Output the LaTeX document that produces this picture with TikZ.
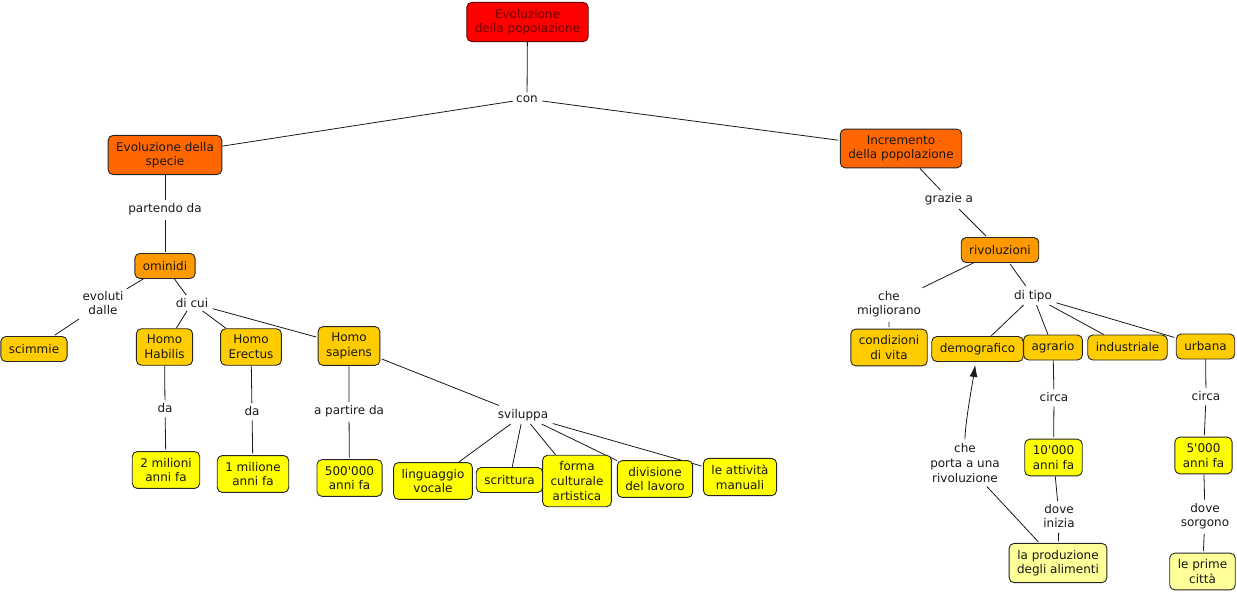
\documentclass[tikz,border=0pt]{standalone}
\usepackage{fontspec}
\setmainfont{DejaVu Sans}
\usetikzlibrary{arrows.meta,backgrounds}
\definecolor{cmred}{HTML}{FF0000}
\definecolor{cmorange}{HTML}{FF6600}
\definecolor{cmamber}{HTML}{FF9900}
\definecolor{cmgold}{HTML}{FFCC00}
\definecolor{cmyellow}{HTML}{FFFF00}
\definecolor{cmpale}{HTML}{FFFF99}
\tikzset{
  concept/.style={shape=rectangle,draw=black!85,line width=0.9pt,rounded corners=5pt,
    align=center,inner xsep=8pt,inner ysep=6.5pt,minimum height=25pt,text=black!90},
  top/.style={concept,fill=cmred,draw=red!40!black,text=red!40!black},
  main/.style={concept,fill=cmorange},
  hub/.style={concept,fill=cmamber},
  item/.style={concept,fill=cmgold},
  date/.style={concept,fill=cmyellow},
  pale/.style={concept,fill=cmpale},
  link/.style={align=center,inner sep=3pt,text=black!90},
  conn/.style={line width=0.8pt,draw=black!90,shorten <=1.5pt,shorten >=1.5pt}
}
\begin{document}
\begin{tikzpicture}[x=1pt,y=-1pt,font=\fontsize{12}{14.6}\selectfont]
  \useasboundingbox (0,0) rectangle (1237,594);
  % top
  \node (pop) [top] at (527.5,22) {Evoluzione\\della popolazione};
  \node (con) [link] at (527,99) {con};
  \node (spe) [main] at (165,155) {Evoluzione della\\specie};
  \node (inc) [main] at (901,148.5) {Incremento\\della popolazione};
  % evoluzione della specie
  \node (parte) [link] at (165,209) {partendo da};
  \node (omi) [hub] at (165,266) {ominidi};
  \node (evol) [link] at (103,303) {evoluti\\dalle};
  \node (dicui) [link] at (192,303) {di cui};
  \node (sci) [item] at (34,349) {scimmie};
  \node (hab) [item] at (164.5,347) {Homo\\Habilis};
  \node (ere) [item] at (251,347) {Homo\\Erectus};
  \node (sap) [item] at (349,346) {Homo\\sapiens};
  \node (da1) [link] at (165,408) {da};
  \node (da2) [link] at (252,411) {da};
  \node (apart) [link] at (349,411) {a partire da};
  \node (svi) [link] at (523,415) {sviluppa};
  \node (mil2) [date] at (166,470) {2 milioni\\anni fa};
  \node (mil1) [date] at (253,474) {1 milione\\anni fa};
  \node (k500) [date] at (349.5,478) {500\textquotesingle 000\\anni fa};
  \node (lin) [date] at (433,481) {linguaggio\\vocale};
  \node (scr) [date] at (509.5,480) {scrittura};
  \node (for) [date] at (577,481) {forma\\culturale\\artistica};
  \node (div) [date] at (655,479) {divisione\\del lavoro};
  \node (att) [date] at (740,477) {le attività\\manuali};
  % incremento della popolazione
  \node (graz) [link] at (949,199) {grazie a};
  \node (riv) [hub] at (1000,250) {rivoluzioni};
  \node (migl) [link] at (889,304) {che\\migliorano};
  \node (tipo) [link] at (1033,296) {di tipo};
  \node (cond) [item] at (889,347.5) {condizioni\\di vita};
  \node (dem) [item] at (977.5,349) {demografico};
  \node (agr) [item] at (1053,347.5) {agrario};
  \node (ind) [item] at (1127.5,347.5) {industriale};
  \node (urb) [item] at (1205.5,346.5) {urbana};
  \node (circa1) [link] at (1054,397) {circa};
  \node (circa2) [link] at (1206,396) {circa};
  \node (k10) [date] at (1053.5,457.5) {10\textquotesingle 000\\anni fa};
  \node (k5) [date] at (1203.5,455.5) {5\textquotesingle 000\\anni fa};
  \node (ini) [link] at (1059,516) {dove\\inizia};
  \node (sorg) [link] at (1205,516) {dove\\sorgono};
  \node (prod) [pale] at (1058,563) {la produzione\\degli alimenti};
  \node (citta) [pale] at (1202.5,571.5) {le prime\\città};
  \node (porta) [link] at (965,463) {che\\porta a una\\rivoluzione};
  % connectors
  \begin{pgfonlayer}{background}
    \draw [conn] (pop) -- (con) (con) -- (spe) (con) -- (inc);
    \draw [conn] (spe) -- (parte) (parte) -- (omi);
    \draw [conn] (omi) -- (evol) (evol) -- (sci);
    \draw [conn] (omi) -- (dicui) (dicui) -- (hab) (dicui) -- (ere) (dicui) -- (sap);
    \draw [conn] (hab) -- (da1) (da1) -- (mil2);
    \draw [conn] (ere) -- (da2) (da2) -- (mil1);
    \draw [conn] (sap) -- (apart) (apart) -- (k500);
    \draw [conn] (sap) -- (svi);
    \draw [conn] (svi) -- (lin) (svi) -- (scr) (svi) -- (for) (svi) -- (div) (svi) -- (att);
    \draw [conn] (inc) -- (graz) (graz) -- (riv);
    \draw [conn] (riv) -- (migl) (migl) -- (cond);
    \draw [conn] (riv) -- (tipo);
    \draw [conn] (tipo) -- (dem) (tipo) -- (agr) (tipo) -- (ind) (tipo) -- (urb);
    \draw [conn] (agr) -- (circa1) (circa1) -- (k10);
    \draw [conn] (urb) -- (circa2) (circa2) -- (k5);
    \draw [conn] (k10) -- (ini) (ini) -- (prod);
    \draw [conn] (k5) -- (sorg) (sorg) -- (citta);
    \draw [conn] (prod) -- (porta);
    \draw [conn,shorten >=3pt,-{Latex[length=12pt,width=8pt]}] (porta) .. controls +(0,-40) and +(-4,28) .. (dem);
  \end{pgfonlayer}
\end{tikzpicture}
\end{document}
